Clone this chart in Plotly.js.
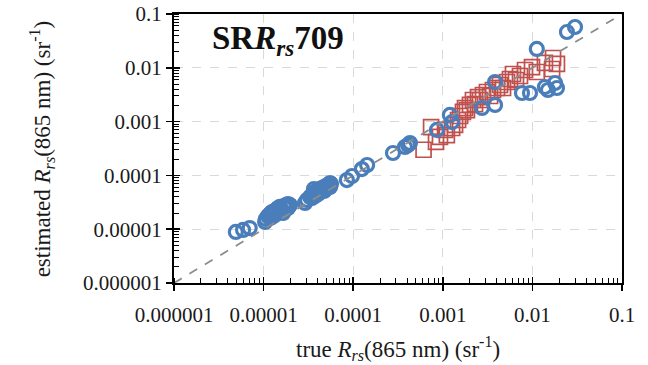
<!DOCTYPE html>
<html>
<head>
<meta charset="utf-8">
<script src="https://cdn.plot.ly/plotly-3.0.1.min.js"></script>
<style>html,body{margin:0;padding:0;background:#fff;}#chart{width:648px;height:365px;}</style>
</head>
<body>
<div id="chart"></div>
<script>
// Blue circles: true vs estimated Rrs(865)
const blueTrue = [4.9e-6, 5.9e-6, 7.0e-6,
  1.04e-5, 1.06e-5, 1.12e-5, 1.18e-5, 1.18e-5, 1.24e-5, 1.24e-5, 1.31e-5, 1.34e-5, 1.37e-5, 1.45e-5, 1.52e-5, 1.52e-5, 1.60e-5, 1.65e-5, 1.69e-5, 1.73e-5, 1.78e-5, 1.87e-5, 1.87e-5, 1.97e-5,
  2.90e-5, 3.05e-5, 3.30e-5, 3.47e-5, 3.47e-5, 3.65e-5, 3.65e-5, 3.75e-5, 3.85e-5, 4.05e-5, 4.05e-5, 4.26e-5, 4.26e-5, 4.49e-5, 4.72e-5, 4.72e-5, 4.84e-5, 4.97e-5, 5.23e-5, 5.51e-5, 5.51e-5, 5.65e-5,
  8.5e-5, 9.7e-5, 1.25e-4, 1.43e-4, 2.78e-4, 3.78e-4, 4.09e-4, 4.30e-4,
  8.6e-4, 1.20e-3, 1.27e-3, 2.74e-3, 3.83e-3, 3.83e-3, 7.65e-3, 9.4e-3, 1.12e-2, 1.38e-2, 1.49e-2, 1.79e-2, 1.88e-2, 2.43e-2, 2.99e-2];
const blueEst = [8.9e-6, 9.7e-6, 1.05e-5,
  1.36e-5, 1.55e-5, 1.76e-5, 1.62e-5, 1.92e-5, 2.09e-5, 1.69e-5, 2.00e-5, 1.84e-5, 2.28e-5, 2.48e-5, 2.59e-5, 2.09e-5, 2.28e-5, 2.00e-5, 2.70e-5, 2.48e-5, 2.82e-5, 2.94e-5, 2.48e-5, 2.82e-5,
  3.07e-5, 3.49e-5, 3.97e-5, 3.80e-5, 4.32e-5, 4.71e-5, 5.59e-5, 4.14e-5, 5.13e-5, 5.36e-5, 4.51e-5, 4.91e-5, 5.59e-5, 5.83e-5, 6.09e-5, 5.13e-5, 5.36e-5, 6.35e-5, 6.63e-5, 6.09e-5, 7.22e-5, 6.92e-5,
  8.2e-5, 9.75e-5, 1.31e-4, 1.56e-4, 2.61e-4, 3.37e-4, 3.67e-4, 4.0e-4,
  7.0e-4, 1.33e-3, 9.8e-4, 1.79e-3, 2.04e-3, 5.45e-3, 3.40e-3, 3.40e-3, 2.24e-2, 4.40e-3, 3.87e-3, 5.22e-3, 4.21e-3, 4.63e-2, 5.73e-2];

// Red squares
const redTrue = [6.1e-4, 7.4e-4, 8.4e-4, 9.3e-4, 1.06e-3, 1.11e-3, 1.27e-3, 1.37e-3, 1.48e-3, 1.56e-3, 1.68e-3, 1.77e-3, 1.86e-3, 2.01e-3, 2.17e-3, 2.29e-3, 2.47e-3, 2.60e-3, 2.81e-3, 3.11e-3, 3.37e-3, 3.63e-3, 4.03e-3, 4.35e-3, 4.70e-3, 5.21e-3, 5.62e-3, 6.07e-3, 6.56e-3, 7.27e-3, 8.27e-3, 9.9e-3, 1.12e-2, 1.38e-2, 1.70e-2, 1.88e-2, 1.66e-2];
const redEst = [3.0e-4, 7.9e-4, 4.2e-4, 5.2e-4, 7.0e-4, 5.6e-4, 7.6e-4, 8.7e-4, 1.07e-3, 1.27e-3, 1.51e-3, 1.79e-3, 1.64e-3, 2.04e-3, 2.52e-3, 2.12e-3, 2.86e-3, 2.52e-3, 3.12e-3, 3.55e-3, 2.99e-3, 3.87e-3, 4.21e-3, 4.79e-3, 4.21e-3, 5.45e-3, 6.19e-3, 7.67e-3, 5.93e-3, 7.04e-3, 9.1e-3, 1.03e-2, 8.35e-3, 1.23e-2, 1.52e-2, 1.18e-2, 9.5e-3];

const oneToOne = [1e-6, 0.1];
const tickVals = [1e-6, 1e-5, 1e-4, 1e-3, 1e-2, 1e-1];
const tickText = ['0.000001', '0.00001', '0.0001', '0.001', '0.01', '0.1'];

const serif = '"Liberation Serif", "Times New Roman", "DejaVu Serif", serif';

const traces = [
  {x: redTrue, y: redEst, mode: 'markers', type: 'scatter',
   marker: {symbol: 'square-open', size: 15, color: '#C0504D', line: {width: 1.7, color: '#C0504D'}}},
  {x: blueTrue, y: blueEst, mode: 'markers', type: 'scatter',
   marker: {symbol: 'circle-open', size: 13, color: '#4A7EBB', line: {width: 3.2, color: '#4A7EBB'}}},
  {x: oneToOne, y: oneToOne, mode: 'lines', type: 'scatter',
   line: {color: '#8c8c8c', width: 1.8, dash: 'dash'}},
  {x: oneToOne, y: oneToOne, xaxis: 'x2', yaxis: 'y2', mode: 'markers', marker: {opacity: 0}, hoverinfo: 'skip'}
];

const axisCommon = {
  type: 'log', range: [-6, -1], showline: true, mirror: true, linecolor: '#000', linewidth: 2,
  tickmode: 'array', tickvals: tickVals, ticktext: tickText,
  ticks: 'outside', ticklen: 6, tickwidth: 1.5, tickcolor: '#000',
  showgrid: true, gridcolor: '#d9d9d9', gridwidth: 1.3, griddash: 'dash',
  zeroline: false, tickfont: {family: serif, size: 21, color: '#1a1a1a'},
  minor: {ticks: 'inside', ticklen: 5, tickwidth: 1, tickcolor: '#000', dtick: 'D1', showgrid: false}
};

const layout = {
  width: 648, height: 365,
  margin: {l: 174, r: 26, t: 14, b: 82},
  paper_bgcolor: '#fff', plot_bgcolor: '#fff',
  font: {family: serif},
  showlegend: false,
  xaxis: Object.assign({}, axisCommon, {domain: [0, 1], ticklabelstandoff: 6}),
  yaxis: Object.assign({}, axisCommon, {domain: [0, 1]}),
  xaxis2: {type: 'log', range: [-6, -1], overlaying: 'x', tickmode: 'array', tickvals: tickVals,
           ticks: 'inside', ticklen: 6, tickwidth: 1.5, tickcolor: '#000', showticklabels: false,
           showgrid: false, zeroline: false, showline: false},
  yaxis2: {type: 'log', range: [-6, -1], overlaying: 'y', tickmode: 'array', tickvals: tickVals,
           ticks: 'inside', ticklen: 6, tickwidth: 1.5, tickcolor: '#000', showticklabels: false,
           showgrid: false, zeroline: false, showline: false},
  annotations: [
    {text: '<b>SR<i>R</i><sub><i>rs</i></sub>709</b>', xref: 'paper', yref: 'paper', x: 0.08, y: 0.9,
     xanchor: 'left', yanchor: 'middle', showarrow: false, font: {family: serif, size: 33, color: '#111'}},
    {text: 'true <i>R</i><sub><i>rs</i></sub>(865 nm) (sr<sup>-1</sup>)', xref: 'paper', yref: 'paper',
     x: 0.5, y: -0.245, xanchor: 'center', yanchor: 'middle', showarrow: false,
     font: {family: serif, size: 23, color: '#1a1a1a'}},
    {text: 'estimated <i>R</i><sub><i>rs</i></sub>(865 nm) (sr<sup>-1</sup>)', xref: 'paper', yref: 'paper',
     x: -0.295, y: 0.5, xanchor: 'center', yanchor: 'middle', textangle: -90, showarrow: false,
     font: {family: serif, size: 23, color: '#1a1a1a'}}
  ]
};

Plotly.newPlot('chart', traces, layout, {displayModeBar: false, staticPlot: true});
</script>
</body>
</html>
